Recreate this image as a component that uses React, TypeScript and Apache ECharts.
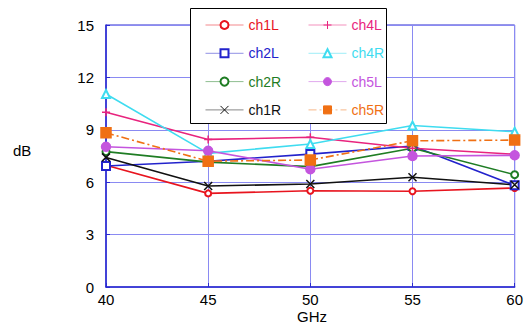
import React, { useEffect, useRef } from "react";
import * as echarts from "echarts";

const freqs = [40, 45, 50, 55, 60];
const yTicks = [0, 3, 6, 9, 12, 15];
const ch1L = [6.97, 5.36, 5.51, 5.48, 5.67];
const ch2L = [6.93, 7.2, 7.61, 8.07, 5.82];
const ch2R = [7.75, 7.15, 6.89, 7.94, 6.43];
const ch1R = [7.42, 5.78, 5.9, 6.28, 5.85];
const ch4L = [10.0, 8.45, 8.57, 7.94, 7.6];
const ch4R = [11.05, 7.65, 8.19, 9.25, 8.89];
const ch5L = [8.03, 7.8, 6.74, 7.5, 7.54];
const ch5R = [8.83, 7.2, 7.27, 8.37, 8.41];

const legendCol1 = ["ch1L", "ch2L", "ch2R", "ch1R"];
const legendCol2 = ["ch4L", "ch4R", "ch5L", "ch5R"];

const X_PATH = "path://M0,0L10,10M10,0L0,10";
const PLUS_PATH = "path://M5,0L5,10M0,5L10,5";

type Spec = {
  name: string;
  values: number[];
  color: string;
  symbol: string;
  size: number;
  dash?: any;
};

const specs: Spec[] = [
  { name: "ch1L", values: ch1L, color: "#e8141e", symbol: "emptyCircle", size: 6 },
  { name: "ch2L", values: ch2L, color: "#2323cc", symbol: "emptyRect", size: 8 },
  { name: "ch2R", values: ch2R, color: "#1f7d24", symbol: "emptyCircle", size: 7 },
  { name: "ch1R", values: ch1R, color: "#111111", symbol: X_PATH, size: 8 },
  { name: "ch4L", values: ch4L, color: "#e8247e", symbol: PLUS_PATH, size: 8 },
  { name: "ch4R", values: ch4R, color: "#3fdcf0", symbol: "emptyTriangle", size: 8 },
  { name: "ch5L", values: ch5L, color: "#c455de", symbol: "circle", size: 9 },
  { name: "ch5R", values: ch5R, color: "#f07014", symbol: "rect", size: 10, dash: [8, 3, 2, 3] },
];

export default function App() {
  const ref = useRef<HTMLDivElement>(null);
  useEffect(() => {
    if (!ref.current) return;
    const chart = echarts.init(ref.current, null, { renderer: "svg" });
    const font = "Liberation Sans, Arial, sans-serif";
    const colorOf: Record<string, string> = {};
    specs.forEach((s) => (colorOf[s.name] = s.color));
    const legendBase = (left: number, names: string[]) => ({
      orient: "vertical",
      left,
      top: 13,
      itemWidth: 38,
      itemHeight: 10,
      itemGap: 14.3,
      z: 120,
      lineStyle: { width: 1, opacity: 0.5 },
      itemStyle: { borderWidth: 1 },
      data: names.map((n) => ({ name: n, textStyle: { color: colorOf[n] } })),
      textStyle: { fontFamily: font, fontSize: 14, lineHeight: 14 },
      selectedMode: false,
    });
    chart.setOption({
      animation: false,
      backgroundColor: "#ffffff",
      grid: {
        left: 106,
        right: 4,
        top: 25,
        bottom: 37,
        show: true,
        borderColor: "#2a2ad0",
        borderWidth: 1,
      },
      legend: [legendBase(200, legendCol1), legendBase(303, legendCol2)],
      graphic: [
        {
          type: "rect",
          z: 100,
          shape: { x: 190.5, y: 8.5, width: 196, height: 115 },
          style: { fill: "#ffffff", stroke: "#000000", lineWidth: 1 },
        },
        {
          type: "text",
          left: 13,
          top: 143,
          style: { text: "dB", fontSize: 15, fontFamily: font, fill: "#000" },
        },
        {
          type: "text",
          left: 297,
          top: 309,
          style: { text: "GHz", fontSize: 15, fontFamily: font, fill: "#000" },
        },
      ],
      xAxis: {
        type: "value",
        min: 40,
        max: 60,
        interval: 5,
        axisLine: { lineStyle: { color: "#2a2ad0", width: 1.5 } },
        axisTick: { inside: true, length: 4, lineStyle: { color: "#2a2ad0" } },
        axisLabel: { color: "#000", fontSize: 15, fontFamily: font, margin: 5, lineHeight: 15 },
        splitLine: { show: true, lineStyle: { color: "#8a8af2", width: 1 } },
      },
      yAxis: {
        type: "value",
        min: 0,
        max: 15,
        interval: 3,
        axisLine: { show: true, lineStyle: { color: "#2a2ad0", width: 1.5 } },
        axisTick: { show: true, inside: true, length: 4, lineStyle: { color: "#2a2ad0" } },
        axisLabel: {
          color: "#000",
          fontSize: 15,
          fontFamily: font,
          margin: 12,
          formatter: (v: number) => (yTicks.includes(v) ? String(v) : ""),
        },
        splitLine: { show: true, lineStyle: { color: "#8a8af2", width: 1 } },
      },
      series: specs.map((s) => ({
        name: s.name,
        type: "line",
        data: freqs.map((f, i) => [f, s.values[i]]),
        symbol: s.symbol,
        symbolSize: s.size,
        showAllSymbol: true,
        lineStyle: { color: s.color, width: 1.6, type: s.dash || "solid" },
        itemStyle: {
          color: s.color,
          borderColor: s.color,
          borderWidth: 1.5,
        },
        emphasis: { disabled: true },
        z: 3,
      })),
    });
    return () => chart.dispose();
  }, []);
  return <div ref={ref} style={{ width: 526, height: 324, position: "absolute", left: 0, top: 0 }} />;
}
